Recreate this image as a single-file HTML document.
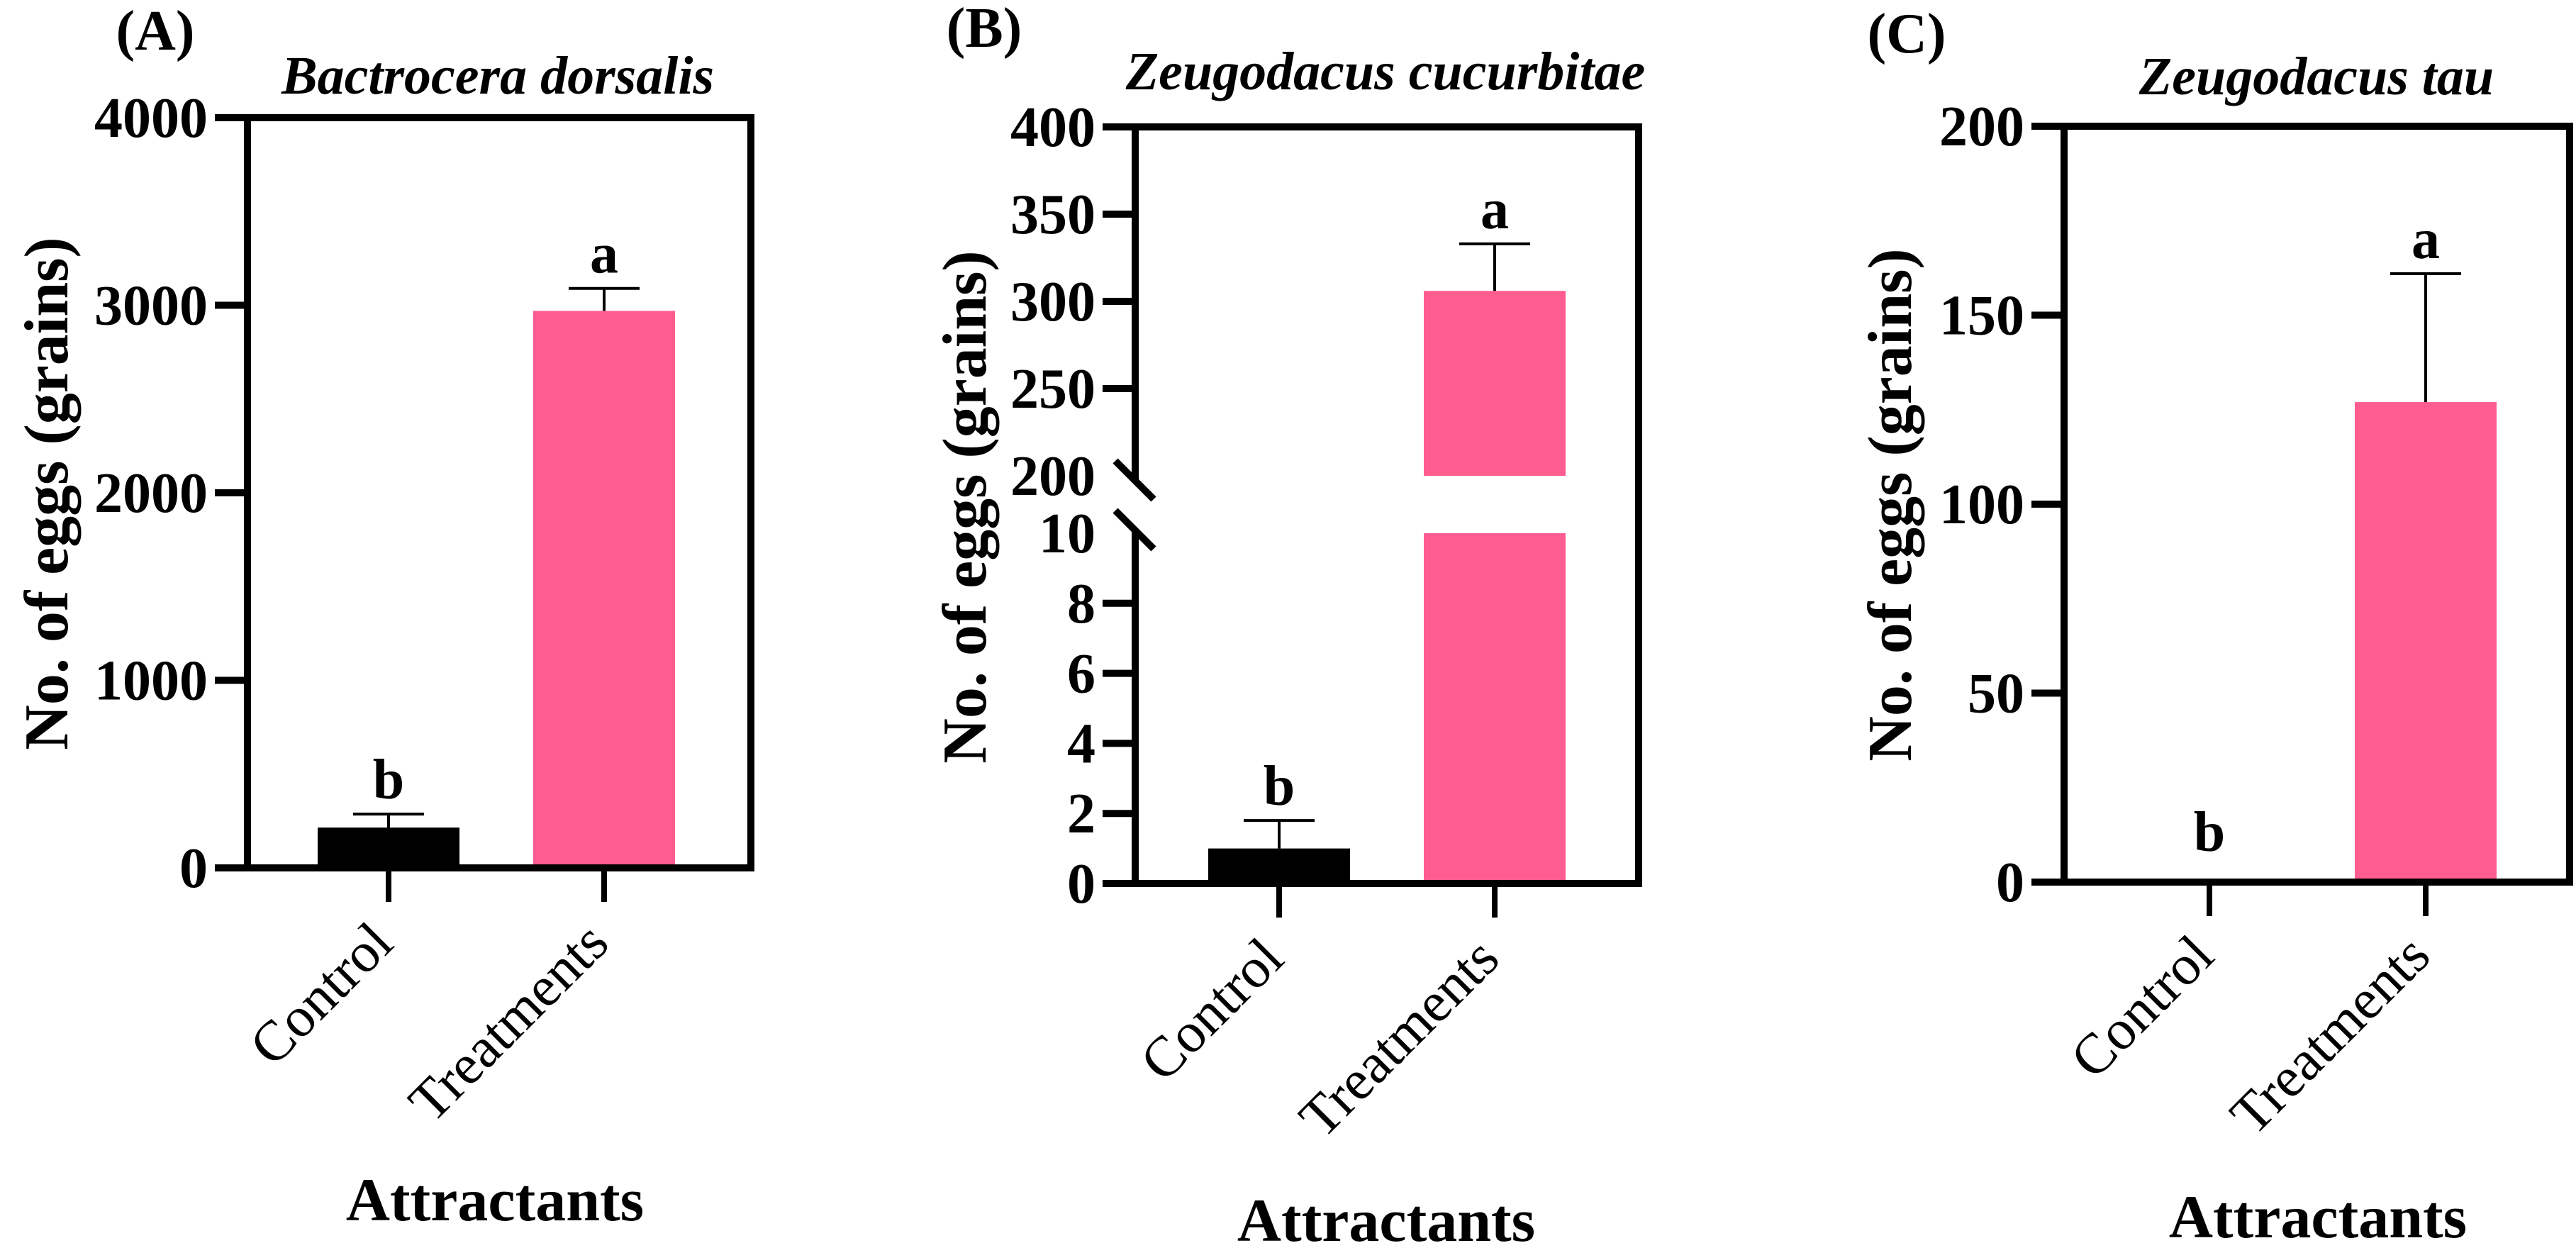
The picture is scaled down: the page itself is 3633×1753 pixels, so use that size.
<!DOCTYPE html>
<html><head><meta charset="utf-8"><style>
html,body{margin:0;padding:0;background:#fff;}
svg{display:block;}
text{font-family:"Liberation Serif",serif;fill:#000;}
.b{font-weight:bold;}
</style></head><body>
<svg id="fig" width="3633" height="1753" viewBox="0 0 3633 1753" xmlns="http://www.w3.org/2000/svg"></svg>
<script>
const categories = ["Control", "Treatments"];
// Panel A - Bactrocera dorsalis
const aMeans = [215, 2970];
const aErrs = [72, 120];
const aLetters = ["b", "a"];
const aTicks = [0, 1000, 2000, 3000, 4000];
// Panel B - Zeugodacus cucurbitae (broken axis)
const bMeans = [1.0, 306];
const bErrs = [0.8, 27];
const bLetters = ["b", "a"];
const bTicksLow = [0, 2, 4, 6, 8, 10];
const bTicksHigh = [200, 250, 300, 350, 400];
// Panel C - Zeugodacus tau
const cMeans = [0, 127];
const cErrs = [0, 34];
const cLetters = ["b", "a"];
const cTicks = [0, 50, 100, 150, 200];

const NS = "http://www.w3.org/2000/svg";
const svg = document.getElementById("fig");
const PINK = "#FF5C90";
function mk(tag, attrs, parent) {
  const e = document.createElementNS(NS, tag);
  for (const k in attrs) e.setAttribute(k, attrs[k]);
  (parent || svg).appendChild(e);
  return e;
}
function txt(str, attrs, parent) { const t = mk("text", attrs, parent); t.textContent = str; return t; }

function panel(cfg) {
  const g = mk("g", {});
  
  
  const L = cfg.left, R = cfg.right, T = cfg.top, B = cfg.bottom;
  const y = cfg.y;
  // panel letter
  const pl = txt(cfg.label, {x: cfg.labelX, y: cfg.labelY, "font-size": 80, class: "b", "text-anchor": "middle"}, g);
  
  
  const ti = txt(cfg.title, {x: cfg.titleX, y: cfg.titleY, "font-size": 76, class: "b", "font-style": "italic", "text-anchor": "middle"}, g);
  
  
  // bars
  const centers = cfg.centers;
  cfg.means.forEach((m, i) => {
    const cx = centers[i], hw = 100;
    const color = i === 0 ? "#000" : PINK;
    if (cfg.broken) {
      const v = m;
      if (v <= 10) {
        const r = mk("rect", {x: cx - hw, y: y(v), width: 2 * hw, height: B - y(v), fill: color}, g);
        
        
      } else {
        const r1 = mk("rect", {x: cx - hw, y: y(10), width: 2 * hw, height: B - y(10), fill: color}, g);
        
        
        const r2 = mk("rect", {x: cx - hw, y: y(v), width: 2 * hw, height: y(200) - y(v), fill: color}, g);
        
        
      }
    } else if (m > 0) {
      const r = mk("rect", {x: cx - hw, y: y(m), width: 2 * hw, height: B - y(m), fill: color}, g);
      
      
    }
    const e = cfg.errs[i];
    if (e > 0) {
      const eg = mk("g", {stroke: "#000", "stroke-width": 4}, g);
      
      
      mk("line", {x1: cx, x2: cx, y1: y(m), y2: y(m + e)}, eg);
      mk("line", {x1: cx - 50, x2: cx + 50, y1: y(m + e), y2: y(m + e)}, eg);
    }
    const ly = e > 0 ? y(m + e) - 22 : (m > 0 ? y(m) - 22 : cfg.zeroLetterY);
    const lt = txt(cfg.letters[i], {x: cx, y: ly, "font-size": 80, class: "b", "text-anchor": "middle"}, g);
    
    
  });
  // frame
  const ax = mk("g", {stroke: "#000", "stroke-width": 10, fill: "none", "stroke-linecap": "square"}, g);
  
  
  mk("line", {x1: L, x2: R, y1: T, y2: T}, ax);
  mk("line", {x1: R, x2: R, y1: T, y2: B}, ax);
  mk("line", {x1: L - 40, x2: R, y1: B, y2: B, "stroke-linecap": "butt"}, ax);
  if (cfg.broken) {
    mk("line", {x1: L, x2: L, y1: T, y2: 676, "stroke-linecap": "butt"}, ax);
    mk("line", {x1: L, x2: L, y1: 750, y2: B, "stroke-linecap": "butt"}, ax);
    const br = mk("g", {stroke: "#000", "stroke-width": 10}, g);
    
    
    mk("line", {x1: L - 28, y1: 650, x2: L + 26, y2: 704}, br);
    mk("line", {x1: L - 28, y1: 720, x2: L + 26, y2: 774}, br);
  } else {
    mk("line", {x1: L, x2: L, y1: T, y2: B}, ax);
  }
  // y ticks
  cfg.ticks.forEach(t => {
    const ty = y(t);
    if (!(cfg.broken && (t === 200 || t === 10))) {
      const tl = mk("line", {x1: L - 46, x2: L, y1: ty, y2: ty, stroke: "#000", "stroke-width": 10}, g);
      
      
    }
    const lab = txt(String(t), {x: L - 56, y: ty + 27, "font-size": 80, class: "b", "text-anchor": "end"}, g);
    
    
  });
  // x ticks + labels
  centers.forEach((cx, i) => {
    const tl = mk("line", {x1: cx, x2: cx, y1: B, y2: B + 48, stroke: "#000", "stroke-width": 8}, g);
    
    
    const ax0 = cx + 10, ay0 = B + cfg.labelDrop;
    const lab = txt(categories[i], {x: ax0, y: ay0, "font-size": 80, "text-anchor": "end", transform: `rotate(-45 ${ax0} ${ay0})`}, g);
    
    
  });
  const xt = txt("Attractants", {x: cfg.xTitleX, y: cfg.xTitleY, "font-size": 86, class: "b", "text-anchor": "middle"}, g);
  
  
  const yt = txt("No. of eggs (grains)", {x: cfg.yTitleX, y: cfg.yTitleCY, "font-size": 88, class: "b", "text-anchor": "middle", transform: `rotate(-90 ${cfg.yTitleX} ${cfg.yTitleCY})`}, g);
  
  
}

// Panel A
(function(){
  const T = 166, B = 1224, max = 4000;
  const y = v => B - (v / max) * (B - T);
  panel({name: "panel-a", label: "(A)", labelX: 219, labelY: 70, title: "Bactrocera dorsalis", titleX: 702, titleY: 132,
    left: 349, right: 1059, top: T, bottom: B, y, centers: [548, 852], means: aMeans, errs: aErrs, letters: aLetters,
    ticks: aTicks, labelDrop: 110, xTitleX: 698, xTitleY: 1721, yTitleX: 95, yTitleCY: 696});
})();
// Panel B (broken axis)
(function(){
  const B = 1246, T = 179;
  const y = v => v <= 10 ? B - v * (B - 752) / 10 : 671 - (v - 200) * (671 - T) / 200;
  panel({name: "panel-b", label: "(B)", labelX: 1388, labelY: 66, title: "Zeugodacus cucurbitae", titleX: 1954, titleY: 126,
    left: 1601, right: 2311, top: T, bottom: B, y, broken: true, centers: [1804, 2108], means: bMeans, errs: bErrs, letters: bLetters,
    ticks: bTicksLow.concat(bTicksHigh), labelDrop: 110, xTitleX: 1955, xTitleY: 1750, yTitleX: 1390, yTitleCY: 715});
})();
// Panel C
(function(){
  const T = 178, B = 1244, max = 200;
  const y = v => B - (v / max) * (B - T);
  panel({name: "panel-c", label: "(C)", labelX: 2689, labelY: 74, title: "Zeugodacus tau", titleX: 3267, titleY: 133,
    left: 2911, right: 3624, top: T, bottom: B, y, centers: [3116, 3421], means: cMeans, errs: cErrs, letters: cLetters,
    ticks: cTicks, labelDrop: 108, xTitleX: 3269, xTitleY: 1745, yTitleX: 2695, yTitleCY: 712, zeroLetterY: 1200});
})();
</script>
</body></html>
